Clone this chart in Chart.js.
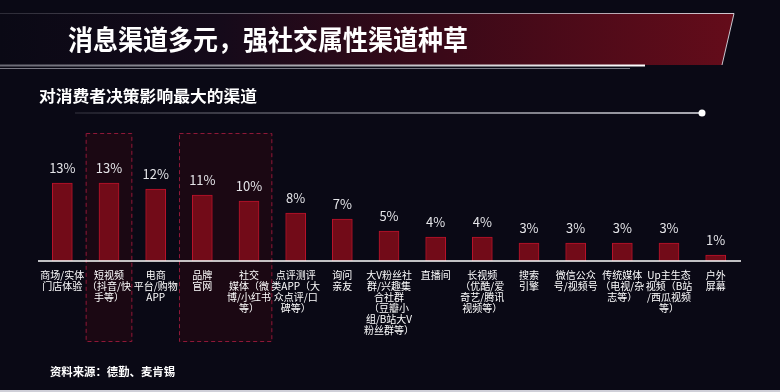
<!DOCTYPE html>
<html>
<head>
<meta charset="utf-8">
<script src="https://cdn.jsdelivr.net/npm/chart.js@4/dist/chart.umd.min.js"></script>
<style>
  html, body { margin: 0; padding: 0; background: #0a0915; }
  #chart { display: block; }
</style>
</head>
<body>
<canvas id="chart" width="780" height="392"></canvas>
<script>
// chart data
const channels = [
  ['商场/实体', '门店体验'],
  ['短视频', '（抖音/快', '手等）'],
  ['电商', '平台/购物', 'APP'],
  ['品牌', '官网'],
  ['社交', '媒体（微', '博/小红书', '等）'],
  ['点评测评', '类APP（大', '众点评/口', '碑等）'],
  ['询问', '亲友'],
  ['大V粉丝社', '群/兴趣集', '合社群', '（豆瓣小', '组/B站大V', '粉丝群等）'],
  ['直播间'],
  ['长视频', '（优酷/爱', '奇艺/腾讯', '视频等）'],
  ['搜索', '引擎'],
  ['微信公众', '号/视频号'],
  ['传统媒体', '（电视/杂', '志等）'],
  ['Up主生态', '视频（B站', '/西瓜视频', '等）'],
  ['户外', '屏幕']
];
const shares = [13, 13, 12, 11, 10, 8, 7, 5, 4, 4, 3, 3, 3, 3, 1];
// highlighted channel groups (first index, last index)
const highlightGroups = [[1, 1], [3, 4]];

const pageTitle = '消息渠道多元，强社交属性渠道种草';
const chartTitle = '对消费者决策影响最大的渠道';
const sourceNote = '资料来源：德勤、麦肯锡';

const CJK = '"Noto Sans CJK SC", "Noto Sans", sans-serif';

// draw text squeezed / stretched to a given width
function fitText(ctx, text, x, y, width) {
  const w = ctx.measureText(text).width;
  ctx.save();
  ctx.translate(x, y);
  ctx.scale(width / w, 1);
  ctx.fillText(text, 0, 0);
  ctx.restore();
}

const pageDecor = {
  id: 'pageDecor',
  beforeDraw(chart) {
    const ctx = chart.ctx;
    const xs = chart.scales.x;
    ctx.save();
    ctx.fillStyle = '#0a0915';
    ctx.fillRect(0, 0, chart.width, chart.height);

    // title banner
    const g = ctx.createLinearGradient(0, 0, 734, 0);
    g.addColorStop(0, 'rgba(10,9,21,1)');
    g.addColorStop(0.3, '#150a1a');
    g.addColorStop(0.6, '#3a0918');
    g.addColorStop(1, '#640c1a');
    ctx.fillStyle = g;
    ctx.beginPath();
    ctx.moveTo(0, 13);
    ctx.lineTo(734, 13);
    ctx.lineTo(722, 65);
    ctx.lineTo(0, 65);
    ctx.closePath();
    ctx.fill();

    const lg = ctx.createLinearGradient(0, 0, 734, 0);
    lg.addColorStop(0, 'rgba(180,180,190,0.2)');
    lg.addColorStop(1, 'rgba(220,220,228,0.9)');
    ctx.strokeStyle = lg;
    ctx.lineWidth = 1;
    ctx.beginPath();
    ctx.moveTo(0, 13.5);
    ctx.lineTo(734, 13.5);
    ctx.lineTo(722, 65);
    ctx.stroke();

    const wg = ctx.createLinearGradient(0, 0, 645, 0);
    wg.addColorStop(0, 'rgba(200,200,210,0.5)');
    wg.addColorStop(1, '#ffffff');
    ctx.strokeStyle = wg;
    ctx.lineWidth = 2;
    ctx.beginPath();
    ctx.moveTo(0, 65.5);
    ctx.lineTo(645, 65.5);
    ctx.stroke();
    ctx.strokeStyle = 'rgba(150,150,160,0.8)';
    ctx.lineWidth = 1;
    ctx.beginPath();
    ctx.moveTo(0, 68.5);
    ctx.lineTo(630, 68.5);
    ctx.stroke();

    ctx.fillStyle = '#ffffff';
    ctx.textBaseline = 'middle';
    ctx.textAlign = 'left';
    ctx.font = 'bold 27px ' + CJK;
    fitText(ctx, pageTitle, 68, 40, 400);

    // sub title + line
    ctx.font = 'bold 16px ' + CJK;
    fitText(ctx, chartTitle, 39, 96, 218);
    const sg = ctx.createLinearGradient(75, 0, 702, 0);
    sg.addColorStop(0, 'rgba(200,200,210,0.15)');
    sg.addColorStop(1, 'rgba(225,225,232,1)');
    ctx.strokeStyle = sg;
    ctx.lineWidth = 1.5;
    ctx.beginPath();
    ctx.moveTo(75, 113);
    ctx.lineTo(702, 113);
    ctx.stroke();
    ctx.fillStyle = '#ffffff';
    ctx.beginPath();
    ctx.arc(702, 113, 3.5, 0, Math.PI * 2);
    ctx.fill();

    // highlighted groups
    const step = xs.width / channels.length;
    highlightGroups.forEach(([a, b]) => {
      const left = xs.getPixelForValue(a) - step / 2;
      const right = xs.getPixelForValue(b) + step / 2;
      ctx.fillStyle = '#1b0813';
      ctx.fillRect(left, 133, right - left, 209);
      ctx.strokeStyle = '#8e1838';
      ctx.lineWidth = 1;
      ctx.setLineDash([4, 3]);
      ctx.strokeRect(left + 0.5, 133.5, right - left - 1, 208);
      ctx.setLineDash([]);
    });

    // source note
    ctx.fillStyle = '#ffffff';
    ctx.font = 'bold 11px ' + CJK;
    fitText(ctx, sourceNote, 50, 372, 125);

    ctx.fillStyle = '#cfcfd8';
    ctx.fillRect(0, 390, chart.width, 2);
    ctx.restore();
  },
  afterDatasetsDraw(chart) {
    const ctx = chart.ctx;
    const xs = chart.scales.x;
    const area = chart.chartArea;
    const meta = chart.getDatasetMeta(0);
    ctx.save();

    // baseline
    ctx.strokeStyle = '#ffffff';
    ctx.lineWidth = 1.5;
    ctx.beginPath();
    ctx.moveTo(area.left - 1, area.bottom);
    ctx.lineTo(area.right + 2, area.bottom);
    ctx.stroke();

    // value labels
    ctx.textAlign = 'center';
    ctx.textBaseline = 'middle';
    ctx.fillStyle = '#e4e4e8';
    ctx.font = '13px ' + CJK;
    meta.data.forEach((bar, i) => {
      ctx.fillText(shares[i] + '%', bar.x, bar.y - 14.5);
    });

    // category labels
    ctx.fillStyle = '#ffffff';
    ctx.font = '10px ' + CJK;
    channels.forEach((lines, i) => {
      const x = xs.getPixelForValue(i);
      lines.forEach((t, j) => {
        ctx.fillText(t, x, area.bottom + 14 + j * 11);
      });
    });
    ctx.restore();
  }
};

new Chart(document.getElementById('chart'), {
  type: 'bar',
  data: {
    labels: channels.map(l => l.join('')),
    datasets: [{
      data: shares,
      backgroundColor: '#720b18',
      borderColor: '#b8122a',
      borderWidth: 1,
      barThickness: 20
    }]
  },
  options: {
    responsive: false,
    animation: false,
    layout: { padding: { left: 39, right: 41, top: 171, bottom: 131 } },
    scales: {
      x: { display: false },
      y: { display: false, min: 0, max: 15 }
    },
    plugins: {
      legend: { display: false },
      tooltip: { enabled: false }
    }
  },
  plugins: [pageDecor]
});
</script>
</body>
</html>
